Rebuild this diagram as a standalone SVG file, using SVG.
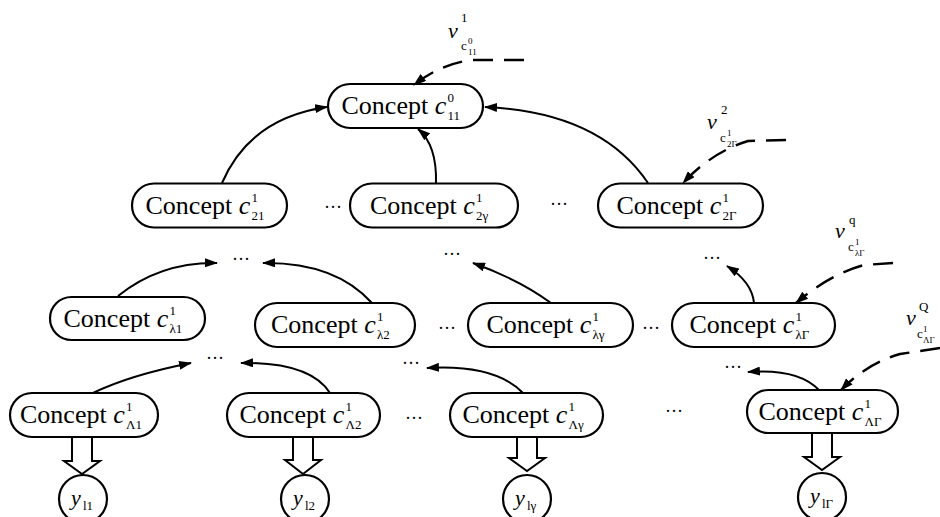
<svg xmlns="http://www.w3.org/2000/svg" width="940" height="517" viewBox="0 0 940 517">
<style>
.box{fill:#fff;stroke:#000;stroke-width:2.2}
.t{font-family:"Liberation Serif","Times New Roman",serif;font-size:26px;fill:#000}
.i{font-style:italic}
.s{font-family:"Liberation Serif","Times New Roman",serif;font-size:13px;fill:#000}
.ss{font-family:"Liberation Serif","Times New Roman",serif;font-size:9px;fill:#000}
.v{font-family:"Liberation Serif","Times New Roman",serif;font-size:22px;font-style:italic;fill:#000}
.d{font-family:"Liberation Serif","Times New Roman",serif;font-size:18px;fill:#000}
.c{fill:none;stroke:#000;stroke-width:2}
.dash{fill:none;stroke:#000;stroke-width:2.4;stroke-dasharray:20 11}
.ha{fill:#fff;stroke:#000;stroke-width:2}
</style>
<defs>
<marker id="ah" viewBox="0 0 13 9" refX="12" refY="4.5" markerWidth="13" markerHeight="9" orient="auto" markerUnits="userSpaceOnUse"><path d="M0,0 L13,4.5 L0,9 z" fill="#000"/></marker>
</defs>

<g id="n0" transform="translate(405.5,106)"><rect class="box" x="-77.5" y="-22" width="155" height="44" rx="22"/><text class="t" x="-64" y="8">Concept <tspan class="i">c</tspan></text><text class="s" x="42" y="-4">0</text><text class="s" x="42" y="14">11</text></g>

<g id="n21" transform="translate(209.5,205.5)"><rect class="box" x="-77.5" y="-22" width="155" height="44" rx="22"/><text class="t" x="-64" y="8">Concept <tspan class="i">c</tspan></text><text class="s" x="42" y="-4">1</text><text class="s" x="42" y="14">21</text></g>
<g id="n2g" transform="translate(434,205.5)"><rect class="box" x="-84" y="-22" width="168" height="44" rx="22"/><text class="t" x="-64" y="8">Concept <tspan class="i">c</tspan></text><text class="s" x="42" y="-4">1</text><text class="s" x="42" y="14">2γ</text></g>
<g id="n2G" transform="translate(680.5,205.5)"><rect class="box" x="-82.5" y="-22" width="165" height="44" rx="22"/><text class="t" x="-64" y="8">Concept <tspan class="i">c</tspan></text><text class="s" x="42" y="-4">1</text><text class="s" x="42" y="14">2Γ</text></g>

<g id="nl1" transform="translate(127.5,318.5)"><rect class="box" x="-77.5" y="-21.5" width="155" height="43" rx="21.5"/><text class="t" x="-64" y="8">Concept <tspan class="i">c</tspan></text><text class="s" x="42" y="-4">1</text><text class="s" x="42" y="14">λ1</text></g>
<g id="nl2" transform="translate(335,325)"><rect class="box" x="-80" y="-22" width="160" height="44" rx="22"/><text class="t" x="-64" y="8">Concept <tspan class="i">c</tspan></text><text class="s" x="42" y="-4">1</text><text class="s" x="42" y="14">λ2</text></g>
<g id="nlg" transform="translate(550.5,325)"><rect class="box" x="-82.5" y="-22" width="165" height="44" rx="22"/><text class="t" x="-64" y="8">Concept <tspan class="i">c</tspan></text><text class="s" x="42" y="-4">1</text><text class="s" x="42" y="14">λγ</text></g>
<g id="nlG" transform="translate(753.5,325)"><rect class="box" x="-81.5" y="-22" width="163" height="44" rx="22"/><text class="t" x="-64" y="8">Concept <tspan class="i">c</tspan></text><text class="s" x="42" y="-4">1</text><text class="s" x="42" y="14">λΓ</text></g>

<g id="nL1" transform="translate(84,415)"><rect class="box" x="-74" y="-22" width="148" height="44" rx="22"/><text class="t" x="-64" y="8">Concept <tspan class="i">c</tspan></text><text class="s" x="42" y="-4">1</text><text class="s" x="42" y="14">Λ1</text></g>
<g id="nL2" transform="translate(303.5,415)"><rect class="box" x="-76.5" y="-22" width="153" height="44" rx="22"/><text class="t" x="-64" y="8">Concept <tspan class="i">c</tspan></text><text class="s" x="42" y="-4">1</text><text class="s" x="42" y="14">Λ2</text></g>
<g id="nLg" transform="translate(526.5,415)"><rect class="box" x="-76.5" y="-22" width="153" height="44" rx="22"/><text class="t" x="-64" y="8">Concept <tspan class="i">c</tspan></text><text class="s" x="42" y="-4">1</text><text class="s" x="42" y="14">Λγ</text></g>
<g id="nLG" transform="translate(822.5,411.5)"><rect class="box" x="-75.5" y="-21.5" width="151" height="43" rx="21.5"/><text class="t" x="-64" y="8">Concept <tspan class="i">c</tspan></text><text class="s" x="42" y="-4">1</text><text class="s" x="42" y="14">ΛΓ</text></g>

<g id="y1"><circle class="box" cx="83" cy="499" r="24"/><text class="v" x="71" y="505">y</text><text class="s" x="83" y="510">l1</text></g>
<g id="y2"><circle class="box" cx="305" cy="499" r="24"/><text class="v" x="293" y="505">y</text><text class="s" x="305" y="510">l2</text></g>
<g id="yg"><circle class="box" cx="527" cy="499" r="24"/><text class="v" x="515" y="505">y</text><text class="s" x="527" y="510">lγ</text></g>
<g id="yG"><circle class="box" cx="822" cy="497" r="24"/><text class="v" x="810" y="503">y</text><text class="s" x="822" y="508">lΓ</text></g>

<g id="dots">
<text class="d" x="324" y="213">···</text>
<text class="d" x="550" y="210">···</text>
<text class="d" x="232" y="265">···</text>
<text class="d" x="443" y="260">···</text>
<text class="d" x="703" y="264">···</text>
<text class="d" x="438" y="334">···</text>
<text class="d" x="642" y="334">···</text>
<text class="d" x="206" y="364">···</text>
<text class="d" x="402" y="369">···</text>
<text class="d" x="724" y="373">···</text>
<text class="d" x="405" y="424">···</text>
<text class="d" x="665" y="417">···</text>
</g>

<g id="vlabels">
<text class="v" x="448" y="38">v</text><text class="s" x="461" y="22">1</text><text class="s" x="461" y="50">c</text><text class="ss" x="468" y="44">0</text><text class="ss" x="468" y="55">11</text>
<text class="v" x="707" y="129">v</text><text class="s" x="721" y="114">2</text><text class="s" x="720" y="142">c</text><text class="ss" x="727" y="136">1</text><text class="ss" x="727" y="147">2Γ</text>
<text class="v" x="835" y="238">v</text><text class="s" x="849" y="224">q</text><text class="s" x="848" y="251">c</text><text class="ss" x="855" y="245">1</text><text class="ss" x="855" y="256">λΓ</text>
<text class="v" x="906" y="325">v</text><text class="s" x="919" y="311">Q</text><text class="s" x="917" y="338">c</text><text class="ss" x="923" y="332">1</text><text class="ss" x="923" y="343">ΛΓ</text>
</g>

<g id="connectors">
<path class="c" d="M222,183 Q250,118 327,107" marker-end="url(#ah)"/>
<path class="c" d="M436,183 Q437,145 418,129" marker-end="url(#ah)"/>
<path class="c" d="M648,183 Q600,112 485,107" marker-end="url(#ah)"/>
<path class="dash" d="M524,60 L472,60 Q440,64 414,85" marker-end="url(#ah)"/>
<path class="dash" d="M786,140 L748,141 Q712,152 683,183" marker-end="url(#ah)"/>

<path class="c" d="M118,296 Q160,262 217,263" marker-end="url(#ah)"/>
<path class="c" d="M372,303 Q335,262 263,263" marker-end="url(#ah)"/>
<path class="c" d="M551,303 Q520,280 473,263" marker-end="url(#ah)"/>
<path class="c" d="M754,303 Q752,282 727,266" marker-end="url(#ah)"/>
<path class="dash" d="M893,263 L864,265 Q830,274 796,303" marker-end="url(#ah)"/>

<path class="c" d="M93,393 Q130,375 191,363" marker-end="url(#ah)"/>
<path class="c" d="M330,393 Q310,362 241,363" marker-end="url(#ah)"/>
<path class="c" d="M523,393 Q495,364 427,368" marker-end="url(#ah)"/>
<path class="c" d="M819,390 Q798,368 748,372" marker-end="url(#ah)"/>
<path class="dash" d="M940,348 L900,354 Q866,364 841,390" marker-end="url(#ah)"/>

<polygon class="ha" points="72,437 92,437 92,461 100,461 82,474 64,461 72,461"/>
<polygon class="ha" points="293,437 313,437 313,460 321,460 303,474 285,460 293,460"/>
<polygon class="ha" points="517,437 537,437 537,458 545,458 527,471 509,458 517,458"/>
<polygon class="ha" points="812,433 832,433 832,457 840,457 822,470 804,457 812,457"/>
</g>
</svg>
